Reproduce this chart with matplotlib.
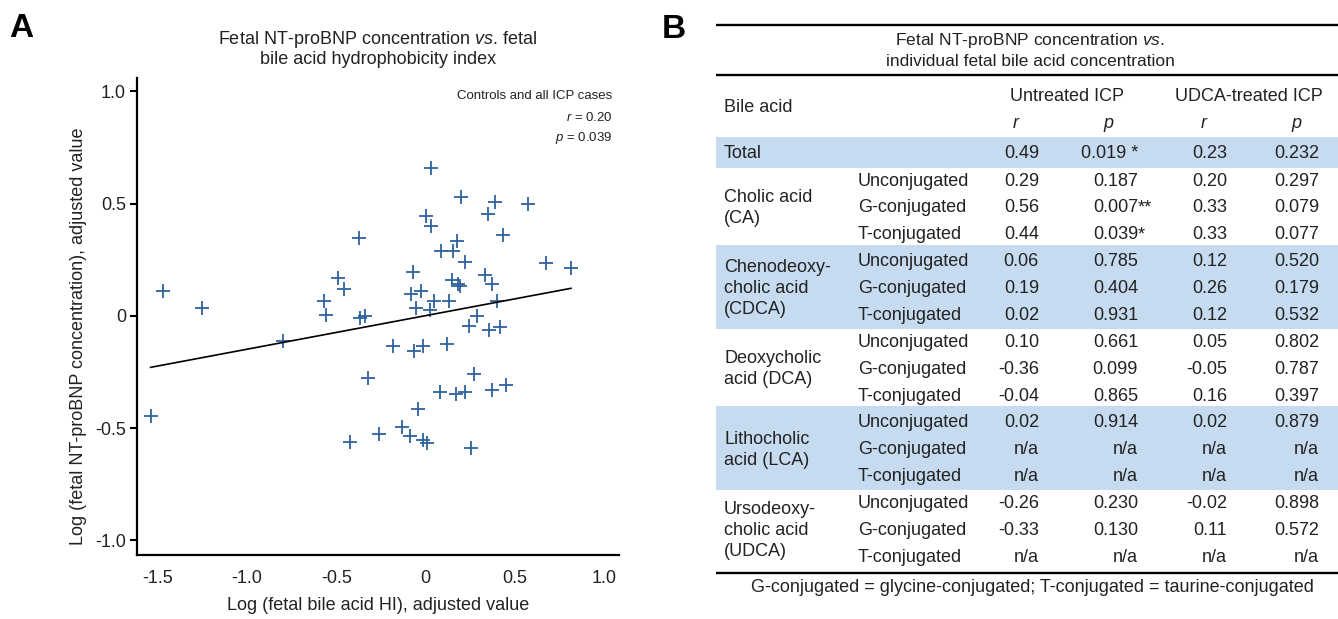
import matplotlib
matplotlib.use('Agg')
import matplotlib.pyplot as plt
from matplotlib.patches import Rectangle
import numpy as np

plt.rcParams['font.family'] = ['Liberation Sans', 'DejaVu Sans']
plt.rcParams['mathtext.fontset'] = 'custom'
plt.rcParams['mathtext.rm'] = 'Liberation Sans'
plt.rcParams['mathtext.it'] = 'Liberation Sans:italic'

# Panel A data: log fetal bile acid HI vs log fetal NT-proBNP (adjusted values)
hi_x = [-1.540, -1.473, -1.252, -0.800, -0.567, -0.559, -0.489, -0.457, -0.423, -0.373,
        -0.367, -0.337, -0.322, -0.260, -0.184, -0.130, -0.087, -0.083, -0.072, -0.066,
        -0.055, -0.040, -0.025, -0.016, -0.012, 0.007, 0.003, 0.025, 0.031, 0.031,
        0.049, 0.081, 0.085, 0.119, 0.132, 0.147, 0.152, 0.169, 0.178, 0.184,
        0.193, 0.199, 0.220, 0.223, 0.242, 0.255, 0.274, 0.290, 0.332, 0.352,
        0.357, 0.371, 0.373, 0.389, 0.399, 0.417, 0.436, 0.451, 0.576, 0.673, 0.815]
bnp_y = [-0.447, 0.111, 0.037, -0.111, 0.068, 0.004, 0.171, 0.119, -0.563, 0.349,
         -0.010, 0.000, -0.276, -0.527, -0.132, -0.494, -0.536, 0.099, 0.195, -0.155,
         0.037, -0.413, 0.113, -0.132, -0.552, -0.564, 0.445, 0.027, 0.658, 0.402,
         0.068, -0.339, 0.291, -0.123, 0.068, 0.159, 0.288, -0.347, 0.334, 0.144,
         0.135, 0.530, -0.339, 0.241, -0.045, -0.589, -0.257, 0.001, 0.181, 0.454,
         -0.062, -0.330, 0.143, 0.506, 0.068, -0.048, 0.361, -0.306, 0.497, 0.235, 0.212]
fit_slope = 0.1495
fit_intercept = 0.0012
ticks_x = [-1.5, -1.0, -0.5, 0, 0.5, 1.0]
ticks_x_labels = ['-1.5', '-1.0', '-0.5', '0', '0.5', '1.0']
ticks_y = [-1.0, -0.5, 0, 0.5, 1.0]
ticks_y_labels = ['-1.0', '-0.5', '0', '0.5', '1.0']

# Panel B data
groups = ['Total', 'Cholic acid\n(CA)', 'Chenodeoxy-\ncholic acid\n(CDCA)',
          'Deoxycholic\nacid (DCA)', 'Lithocholic\nacid (LCA)', 'Ursodeoxy-\ncholic acid\n(UDCA)']
conj = ['Unconjugated', 'G-conjugated', 'T-conjugated']
untreated_r = ['0.49', '0.29', '0.56', '0.44', '0.06', '0.19', '0.02', '0.10', '-0.36', '-0.04',
               '0.02', 'n/a', 'n/a', '-0.26', '-0.33', 'n/a']
untreated_p = ['0.019 *', '0.187', '0.007**', '0.039*', '0.785', '0.404', '0.931', '0.661', '0.099',
               '0.865', '0.914', 'n/a', 'n/a', '0.230', '0.130', 'n/a']
udca_r = ['0.23', '0.20', '0.33', '0.33', '0.12', '0.26', '0.12', '0.05', '-0.05', '0.16',
          '0.02', 'n/a', 'n/a', '-0.02', '0.11', 'n/a']
udca_p = ['0.232', '0.297', '0.079', '0.077', '0.520', '0.179', '0.532', '0.802', '0.787', '0.397',
          '0.879', 'n/a', 'n/a', '0.898', '0.572', 'n/a']
shaded = [True, False, True, False, True, False]

W, H = 1338, 619
txt = '#222222'
blue = '#2e629c'
band = '#c6dbf0'
fs = 13

fig = plt.figure(figsize=(W / 100, H / 100), dpi=100)


def px_box(l, t, r, b):
    return [l / W, 1 - b / H, (r - l) / W, (b - t) / H]


# ---- panel A ----
ax = fig.add_axes(px_box(137, 78, 618.6, 555))
ax.plot(hi_x, bnp_y, '+', ms=10.5, mew=1.3, color=blue)
xf = np.array([min(hi_x), max(hi_x)])
ax.plot(xf, fit_slope * xf + fit_intercept, color='black', lw=1.2)
ax.set_xlim(-1.616, 1.082)
ax.set_ylim(-1.065, 1.06)
ax.set_xticks(ticks_x)
ax.set_xticklabels(ticks_x_labels)
ax.set_yticks(ticks_y)
ax.set_yticklabels(ticks_y_labels)
for s in ['top', 'right']:
    ax.spines[s].set_visible(False)
for s in ['left', 'bottom']:
    ax.spines[s].set_linewidth(1.6)
ax.tick_params(axis='x', length=0, pad=11, labelsize=fs, colors=txt)
ax.tick_params(axis='y', length=5, width=1.5, pad=3, labelsize=fs, colors=txt)
ax.tick_params(axis='both', color='black')

ax.text(0.9875, 0.962, 'Controls and all ICP cases', transform=ax.transAxes,
        ha='right', va='center', fontsize=9.5, color=txt)
ax.text(0.9875, 0.918, '$\\mathit{r}$ = 0.20', transform=ax.transAxes,
        ha='right', va='center', fontsize=9.5, color=txt)
ax.text(0.9875, 0.875, '$\\mathit{p}$ = 0.039', transform=ax.transAxes,
        ha='right', va='center', fontsize=9.5, color=txt)

# overlay in pixel coordinates for labels and the table
ov = fig.add_axes([0, 0, 1, 1])
ov.set_xlim(0, W)
ov.set_ylim(H, 0)
ov.axis('off')

ov.text(9, 37, 'A', fontsize=24, fontweight='bold', ha='left', va='baseline', color='black')
ov.text(662, 38, 'B', fontsize=24, fontweight='bold', ha='left', va='baseline', color='black')

ov.text(378, 39, 'Fetal NT-proBNP concentration $\\mathit{vs}$. fetal', ha='center', va='center',
        fontsize=fs, color=txt)
ov.text(378, 60, 'bile acid hydrophobicity index', ha='center', va='center', fontsize=fs, color=txt)
ov.text(378, 606, 'Log (fetal bile acid HI), adjusted value', ha='center', va='center',
        fontsize=fs, color=txt)
ov.text(79, 336, 'Log (fetal NT-proBNP concentration), adjusted value', ha='center', va='center',
        rotation=90, fontsize=fs, color=txt)

# ---- panel B table ----
tl, tr = 716, 1338
for yy in [25, 75, 572.7]:
    ov.plot([tl, tr], [yy, yy], color='black', lw=1.7, solid_capstyle='butt')

ov.text(1030, 41, 'Fetal NT-proBNP concentration $\\mathit{vs}$.', ha='center', va='center',
        fontsize=12.5, color=txt)
ov.text(1030, 62, 'individual fetal bile acid concentration', ha='center', va='center',
        fontsize=12.5, color=txt)

ov.text(724, 107.7, 'Bile acid', ha='left', va='center', fontsize=fs, color=txt)
ov.text(1067, 96.7, 'Untreated ICP', ha='center', va='center', fontsize=fs, color=txt)
ov.text(1249, 96.7, 'UDCA-treated ICP', ha='center', va='center', fontsize=fs, color=txt)
for xx, lab in zip([1016, 1108, 1204, 1296], ['r', 'p', 'r', 'p']):
    ov.text(xx, 123, lab, ha='center', va='center', fontsize=fs, style='italic', color=txt)

col_right = [1039, 1138, 1227, 1319]
total_y = 154
row0 = 181
step = (557.3 - 181) / 14

# row y positions: Total then 5 groups of 3
row_y = [total_y] + [row0 + i * step for i in range(15)]

if shaded[0]:
    ov.add_patch(Rectangle((tl, total_y - 17), tr - tl, 31, color=band, lw=0, zorder=0))
for g in range(1, len(groups)):
    i0 = (g - 1) * 3
    if shaded[g]:
        top = row_y[1 + i0] - 16.5
        bot = row_y[1 + i0 + 2] + 13.5
        ov.add_patch(Rectangle((tl, top), tr - tl, bot - top, color=band, lw=0, zorder=0))
    ov.text(724, row_y[1 + i0 + 1], groups[g], ha='left', va='center', fontsize=fs,
            linespacing=1.32, color=txt)
    for k in range(3):
        ov.text(858, row_y[1 + i0 + k], conj[k], ha='left', va='center', fontsize=fs, color=txt)

ov.text(724, total_y, groups[0], ha='left', va='center', fontsize=fs, color=txt)

for i in range(len(untreated_r)):
    yy = row_y[i]
    cols = [untreated_r[i], untreated_p[i], udca_r[i], udca_p[i]]
    for c, val in enumerate(cols):
        base = val.rstrip('*')
        stars = val[len(base):]
        if stars and not base.endswith(' '):
            ov.text(col_right[c], yy, base, ha='right', va='center', fontsize=fs, color=txt)
            ov.text(col_right[c], yy, stars, ha='left', va='center', fontsize=fs, color=txt)
        else:
            ov.text(col_right[c], yy, val, ha='right', va='center', fontsize=fs, color=txt)

ov.text(1032, 587, 'G-conjugated = glycine-conjugated; T-conjugated = taurine-conjugated',
        ha='center', va='center', fontsize=fs, color=txt)

fig.savefig('out.png', dpi=100)
